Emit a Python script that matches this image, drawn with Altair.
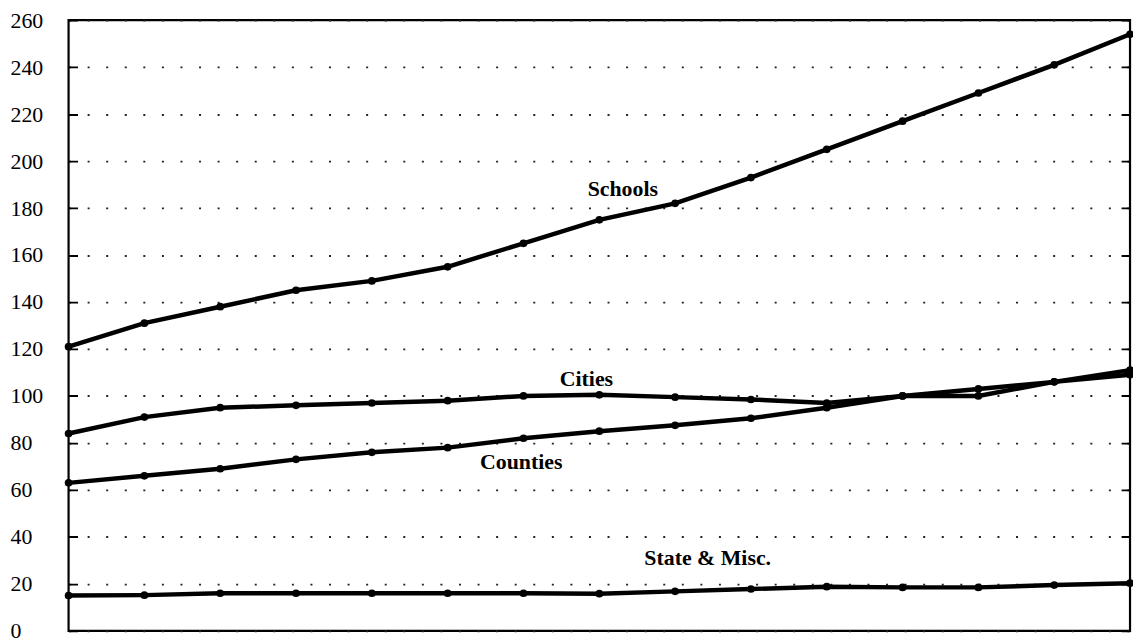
import altair as alt
import pandas as pd

# ---- data ----
periods = list(range(15))
schools = [121, 131, 138, 145, 149, 155, 165, 175, 182, 193, 205, 217, 229, 241, 254]
cities = [84, 91, 95, 96, 97, 98, 100, 100.5, 99.5, 98.5, 97, 100, 100, 106, 109]
counties = [63, 66, 69, 73, 76, 78, 82, 85, 87.5, 90.5, 95, 100, 103, 106, 111]
state_misc = [15, 15.2, 16, 16, 16, 16, 16, 15.8, 16.8, 17.8, 18.8, 18.5, 18.5, 19.5, 20.3]

series_names = ["Schools", "Cities", "Counties", "State & Misc."]
y_ticks = list(range(0, 261, 20))

# annotation labels (data coordinates)
label_text = ["Schools", "Cities", "Counties", "State & Misc."]
label_x = [7.31, 6.83, 5.97, 8.43]
label_y = [188, 107, 72, 31]

rows = []
for name, vals in zip(series_names, [schools, cities, counties, state_misc]):
    for p, v in zip(periods, vals):
        rows.append({"period": p, "value": v, "series": name})
df = pd.DataFrame(rows)
labels_df = pd.DataFrame({"text": label_text, "x": label_x, "y": label_y})

FONT = "Liberation Serif"
W, H = 1069, 615

xscale = alt.Scale(domain=[0, 14], nice=False, zero=False)
yscale = alt.Scale(domain=[0, 260], nice=False)

x_enc = alt.X("period:Q", scale=xscale, axis=None)

lines = alt.Chart(df).mark_line(color="black", strokeWidth=4.5).encode(
    x=x_enc,
    y=alt.Y("value:Q", scale=yscale, title=None,
            axis=alt.Axis(values=y_ticks, orient="left", ticks=False, tickSize=0,
                          domain=False, labelAlign="left", labelPadding=59,
                          labelBaseline="middle", labelFont=FONT, labelFontSize=22,
                          labelColor="black", grid=True, gridColor="#222",
                          gridWidth=1.8, gridDash=[2, 16.7])),
    detail="series:N",
)

points = alt.Chart(df).mark_point(filled=True, color="black", size=60, opacity=1).encode(
    x=x_enc,
    y=alt.Y("value:Q", scale=yscale, title=None,
            axis=alt.Axis(values=y_ticks, orient="right", ticks=False, labels=False,
                          domain=False, grid=True, gridColor="black", gridWidth=1.8,
                          gridDash=[9, 1051, 9])),
)

texts = alt.Chart(labels_df).mark_text(font=FONT, fontSize=22, fontWeight="bold",
                                       color="black", align="center",
                                       baseline="middle").encode(
    x=alt.X("x:Q", scale=xscale, axis=None),
    y=alt.Y("y:Q", scale=yscale, axis=None),
    text="text:N",
)

chart = alt.layer(lines, points, texts).resolve_axis(y="independent").properties(
    width=W, height=H,
    autosize=alt.AutoSizeParams(type="none"),
    padding={"left": 61, "top": 10, "right": 3, "bottom": 10},
    background="white",
).configure_view(stroke="black", strokeWidth=2.2)

chart.save("out.html", embed_options={"renderer": "svg", "actions": False})
